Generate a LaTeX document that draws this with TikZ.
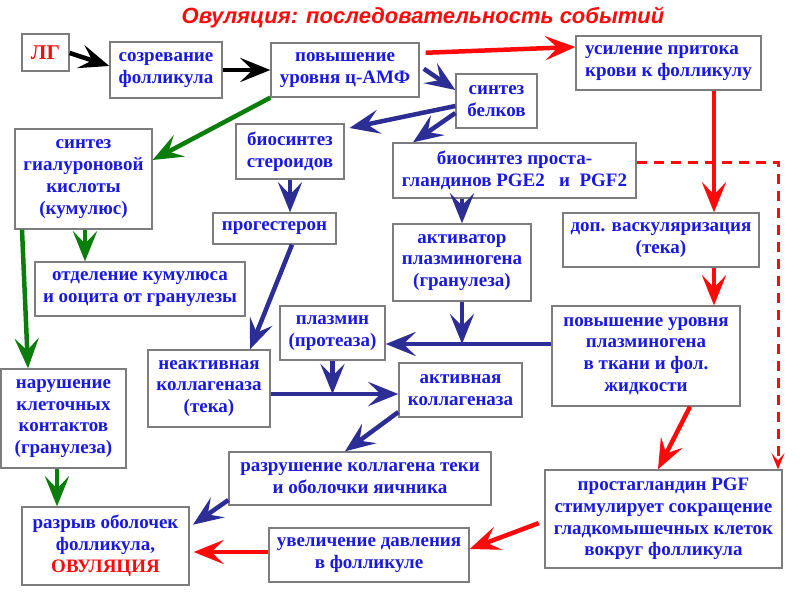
\documentclass[tikz,border=0pt]{standalone}
\usepackage{fontspec}
\setmainfont{Liberation Serif}
\newfontfamily\titlefont{Liberation Sans}
\usetikzlibrary{arrows.meta}
\definecolor{tblue}{RGB}{25,25,225}
\definecolor{ablue}{RGB}{45,45,150}
\definecolor{ared}{RGB}{255,10,10}
\definecolor{agreen}{RGB}{10,125,10}
\definecolor{bgray}{RGB}{125,125,125}
\begin{document}
\begin{tikzpicture}[x=1pt,y=-1pt,
  box/.style={draw=bgray, line width=1.3pt, fill=white, inner sep=2pt, align=center,
    text=tblue, font=\bfseries\fontsize{19}{21.8}\selectfont},
  bigtip/.style={-{Stealth[length=30pt,width=24pt,inset=12pt]}},
  ak/.style={bigtip, draw=black, fill=black, line width=4.5pt},
  ar/.style={bigtip, draw=ared, fill=ared, line width=4.5pt},
  ab/.style={bigtip, draw=ablue, fill=ablue, line width=4.5pt},
  ag/.style={bigtip, draw=agreen, fill=agreen, line width=4.5pt},
  ardash/.style={draw=ared, line width=3pt, dash pattern=on 10pt off 7pt,
    -{Stealth[length=16pt,width=13pt,inset=7pt]}}]
\useasboundingbox (0,0) rectangle (800,600);

\node[text=ared, font=\titlefont\bfseries\itshape\fontsize{22}{26}\selectfont] (title) at (423,18) {Овуляция: последовательность событий};

\node[box, minimum width=47pt, minimum height=37pt, text=ared, font=\bfseries\fontsize{21}{24}\selectfont] (lg) at (45.5,52.5) {ЛГ};
\node[box, minimum width=112pt, minimum height=56pt] (soz) at (166,70) {созревание\\фолликула};
\node[box, minimum width=148pt, minimum height=54pt] (povysh) at (345,70) {повышение\\уровня ц-АМФ};
\node[box, minimum width=185pt, minimum height=54pt, align=left] (usil) at (668.5,63) {усиление притока\\крови к фолликулу};
\node[box, minimum width=81pt, minimum height=54pt] (belk) at (496.5,101) {синтез\\белков};
\node[box, minimum width=137pt, minimum height=100pt] (giak) at (83.5,179) {синтез\\гиалуроновой\\кислоты\\(кумулюс)};
\node[box, minimum width=108pt, minimum height=55pt] (steroid) at (290,151.5) {биосинтез\\стероидов};
\node[box, minimum width=243pt, minimum height=55pt] (prost) at (514.5,170.5) {биосинтез проста-\\гландинов PGE2\ \ \ и\ \ PGF2};
\node[box, minimum width=123pt, minimum height=31pt] (progest) at (274.5,228.5) {прогестерон};
\node[box, minimum width=210pt, minimum height=54pt] (otdel) at (140,289) {отделение кумулюса\\и ооцита от гранулезы};
\node[box, minimum width=138pt, minimum height=77pt] (aktiv) at (462,262.5) {активатор\\плазминогена\\(гранулеза)};
\node[box, minimum width=196pt, minimum height=54pt] (dop) at (661,240) {доп. васкуляризация\\(тека)};
\node[box, minimum width=105pt, minimum height=54pt] (plazmin) at (332.5,333) {плазмин\\(протеаза)};
\node[box, minimum width=188pt, minimum height=100pt] (plg) at (646,356) {повышение уровня\\плазминогена\\в ткани и фол.\\жидкости};
\node[box, minimum width=122pt, minimum height=77pt] (neakt) at (209,388.5) {неактивная\\коллагеназа\\(тека)};
\node[box, minimum width=125pt, minimum height=99pt] (narush) at (63.5,418.5) {нарушение\\клеточных\\контактов\\(гранулеза)};
\node[box, minimum width=123pt, minimum height=54pt] (aktivk) at (460.5,390) {активная\\коллагеназа};
\node[box, minimum width=262pt, minimum height=53pt] (razr) at (360,478.5) {разрушение коллагена теки\\и оболочки яичника};
\node[box, minimum width=237pt, minimum height=98pt] (pgf) at (663.5,519) {простагландин PGF\\стимулирует сокращение\\гладкомышечных клеток\\вокруг фолликула};
\node[box, minimum width=167pt, minimum height=78pt] (razryv) at (105.5,546) {разрыв оболочек\\фолликула,\\\textcolor{ared}{ОВУЛЯЦИЯ}};
\node[box, minimum width=200pt, minimum height=54pt] (uvel) at (369,555) {увеличение давления\\в фолликуле};

\coordinate (j1) at (aktiv.south |- 0,344);
\coordinate (j2) at (plazmin.south |- 0,394);
\coordinate (dc) at (778,162);

\draw[ak] (lg.east |- 0,53) -- (soz.west |- 0,66);
\draw[ak] (soz.east) -- (povysh.west);
\draw[ar, shorten <=6pt] (povysh.east |- 0,53) -- (usil.west |- 0,47);
\draw[ab, shorten <=5pt] (povysh.east |- 0,66) -- (belk.west |- 0,90);
\draw[ag] (povysh.south west) -- (giak.east |- 0,160);
\draw[ab, shorten >=5pt] (belk.west |- 0,106) -- (steroid.east |- 0,129);
\draw[ab] (belk.west |- 0,113) -- (413,0 |- prost.north);
\draw[ab] (steroid.south) -- (steroid.south |- progest.north);
\draw[ab] (292,0 |- progest.south) -- (250,0 |- neakt.north);
\draw[ab] (aktiv.north |- prost.south) -- (aktiv.north);
\draw[ab] (aktiv.south) -- (j1);
\draw[ab] (plg.west |- j1) -- (plazmin.east |- j1);
\draw[ab] (plazmin.south) -- (j2);
\draw[ab] (neakt.east |- j2) -- (aktivk.west |- j2);
\draw[ab] (aktivk.south west |- 0,412) -- (345,0 |- razr.north);
\draw[ab, shorten >=4pt] (razr.west |- 0,500) -- (razryv.east |- 0,527);
\draw[ag] (85,0 |- giak.south) -- (85,0 |- otdel.north);
\draw[ag] (22,0 |- giak.south) -- (28,0 |- narush.north);
\draw[ag] (57,0 |- narush.south) -- (57,0 |- razryv.north);
\draw[ar] (714,0 |- usil.south) -- (714,0 |- dop.north);
\draw[ar] (714,0 |- dop.south) -- (714,0 |- plg.north);
\draw[ar] (690,0 |- plg.south) -- (658,0 |- pgf.north);
\draw[ardash] (prost.east |- dc) -- (dc) -- (dc |- pgf.north);
\draw[ar, shorten <=6pt] (pgf.west |- 0,521) -- (uvel.east |- 0,549);
\draw[ar, shorten >=4pt] (uvel.west |- 0,552) -- (razryv.east |- 0,552);
\end{tikzpicture}
\end{document}
